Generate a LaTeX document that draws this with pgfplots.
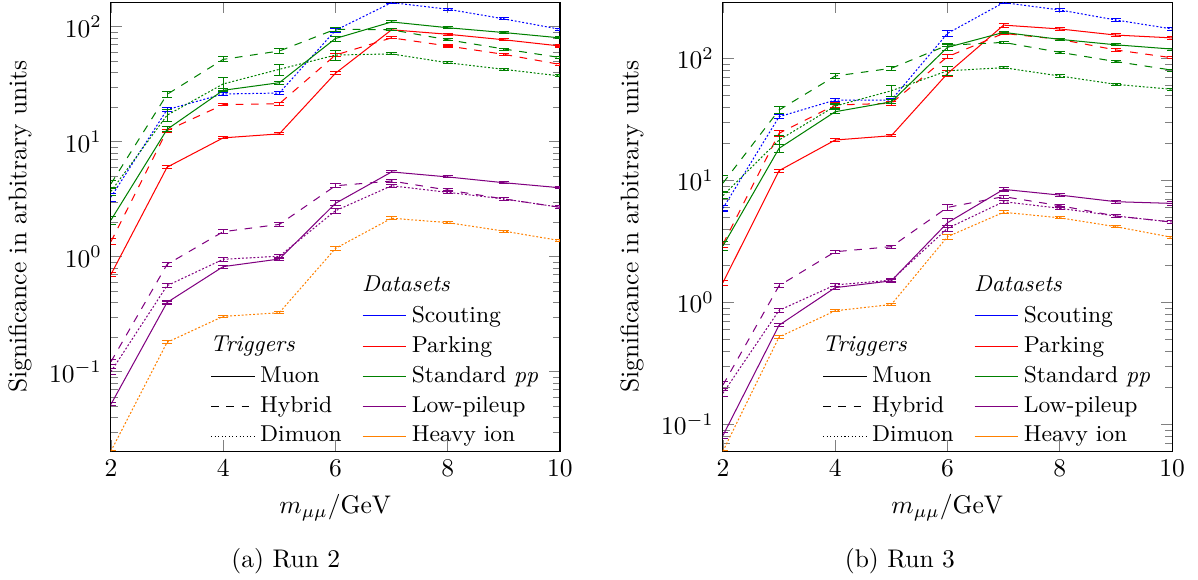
\documentclass[border=0pt]{standalone}
\usepackage{pgfplots}
\pgfplotsset{compat=1.18}
\definecolor{cgreen}{rgb}{0,0.5,0}
\definecolor{cpurple}{rgb}{0.5,0,0.5}
\definecolor{corange}{rgb}{1,0.5,0}
\tikzset{dts/.style={dash pattern=on 0.75pt off 0.75pt}}
\newcommand{\lgimg}[1]{\addlegendimage{legend image code/.code={\draw[#1] (0cm,0cm) -- (0.6cm,0cm);}}}
\newcommand{\mylegend}{%
  \addlegendimage{empty legend}\addlegendentry{}
  \addlegendimage{empty legend}\addlegendentry{\hspace{-19.5pt}\textit{Datasets}}
  \addlegendimage{empty legend}\addlegendentry{}
  \lgimg{blue,solid}\addlegendentry{Scouting}
  \addlegendimage{empty legend}\addlegendentry{\hspace{-19.5pt}\textit{Triggers}}
  \lgimg{red,solid}\addlegendentry{Parking}
  \lgimg{black,solid}\addlegendentry{Muon}
  \lgimg{cgreen,solid}\addlegendentry{Standard \textit{pp}}
  \lgimg{black,dashed}\addlegendentry{Hybrid}
  \lgimg{cpurple,solid}\addlegendentry{Low-pileup}
  \lgimg{black,densely dotted}\addlegendentry{Dimuon}
  \lgimg{corange,solid}\addlegendentry{Heavy ion}
}
\begin{document}
\begin{tikzpicture}
% ---------------- Run 2 ----------------
\begin{axis}[ymode=log, width=176.1pt, height=176.1pt, scale only axis,
    xmin=2, xmax=10, xtick={2,4,6,8,10},
    xlabel={$m_{\mu\mu}/\mathrm{GeV}$},
    ylabel={Significance in arbitrary units},
    legend columns=2,
    legend cell align=left,
    legend style={at={(0.981,-0.012)}, anchor=south east, draw=none, fill=none, font=\small,
      /tikz/every even column/.append style={column sep=6pt}},
    at={(0pt,0pt)}, anchor=south west, ymin=0.0204, ymax=164]
\mylegend
\addplot[blue,dts,error bars/.cd, y dir=both, y explicit relative, error bar style={solid}] table[x=x,y=y,y error=e] {
x y e
2 3.3 0.08
3 19 0.04
4 26 0.03
5 26.5 0.03
6 93 0.04
7 162 0.02
8 142 0.02
9 117 0.02
10 95 0.02
};
\addplot[red,error bars/.cd, y dir=both, y explicit relative, error bar style={solid}] table[x=x,y=y,y error=e] {
x y e
2 0.70 0.04
3 6.0 0.03
4 10.8 0.02
5 11.7 0.02
6 39.4 0.03
7 94 0.02
8 86 0.02
9 77 0.02
10 68 0.02
};
\addplot[red,dashed,error bars/.cd, y dir=both, y explicit relative, error bar style={solid}] table[x=x,y=y,y error=e] {
x y e
2 1.35 0.06
3 12.5 0.03
4 21 0.02
5 21.4 0.03
6 56.7 0.03
7 80 0.02
8 68 0.02
9 57.5 0.02
10 47 0.02
};
\addplot[cgreen,error bars/.cd, y dir=both, y explicit relative, error bar style={solid}] table[x=x,y=y,y error=e] {
x y e
2 2.08 0.08
3 12.8 0.05
4 28 0.03
5 32.6 0.03
6 79 0.05
7 110 0.02
8 98 0.02
9 89 0.02
10 80 0.02
};
\addplot[cgreen,dashed,error bars/.cd, y dir=both, y explicit relative, error bar style={solid}] table[x=x,y=y,y error=e] {
x y e
2 4.3 0.08
3 25.8 0.06
4 52 0.05
5 61.5 0.05
6 95 0.04
7 94 0.02
8 77 0.02
9 64 0.02
10 54 0.02
};
\addplot[cgreen,dts,error bars/.cd, y dir=both, y explicit relative, error bar style={solid}] table[x=x,y=y,y error=e] {
x y e
2 3.7 0.08
3 17 0.12
4 31.8 0.13
5 42.6 0.11
6 56.7 0.10
7 58 0.02
8 48.6 0.02
9 42.6 0.02
10 37.3 0.02
};
\addplot[cpurple,error bars/.cd, y dir=both, y explicit relative, error bar style={solid}] table[x=x,y=y,y error=e] {
x y e
2 0.052 0.03
3 0.40 0.03
4 0.82 0.03
5 0.955 0.03
6 2.91 0.05
7 5.46 0.02
8 4.94 0.02
9 4.40 0.02
10 3.98 0.02
};
\addplot[cpurple,dashed,error bars/.cd, y dir=both, y explicit relative, error bar style={solid}] table[x=x,y=y,y error=e] {
x y e
2 0.122 0.05
3 0.857 0.04
4 1.65 0.04
5 1.91 0.04
6 4.14 0.04
7 4.55 0.03
8 3.80 0.03
9 3.18 0.03
10 2.69 0.03
};
\addplot[cpurple,dts,error bars/.cd, y dir=both, y explicit relative, error bar style={solid}] table[x=x,y=y,y error=e] {
x y e
2 0.10 0.06
3 0.56 0.04
4 0.95 0.04
5 1.01 0.04
6 2.51 0.05
7 4.14 0.03
8 3.63 0.03
9 3.18 0.03
10 2.69 0.03
};
\addplot[corange,dts,error bars/.cd, y dir=both, y explicit relative, error bar style={solid}] table[x=x,y=y,y error=e] {
x y e
2 0.0204 0.02
3 0.18 0.03
4 0.303 0.02
5 0.326 0.02
6 1.18 0.04
7 2.16 0.03
8 1.98 0.02
9 1.67 0.02
10 1.38 0.02
};
\end{axis}
% ---------------- Run 3 ----------------
\begin{axis}[ymode=log, width=176.1pt, height=176.1pt, scale only axis,
    xmin=2, xmax=10, xtick={2,4,6,8,10},
    xlabel={$m_{\mu\mu}/\mathrm{GeV}$},
    ylabel={Significance in arbitrary units},
    legend columns=2,
    legend cell align=left,
    legend style={at={(0.981,-0.012)}, anchor=south east, draw=none, fill=none, font=\small,
      /tikz/every even column/.append style={column sep=6pt}},
    at={(240pt,0pt)}, anchor=south west, ymin=0.0604, ymax=289]
\mylegend
\addplot[blue,dts,error bars/.cd, y dir=both, y explicit relative, error bar style={solid}] table[x=x,y=y,y error=e] {
x y e
2 5.9 0.05
3 33.2 0.04
4 45.5 0.03
5 45.5 0.03
6 160 0.05
7 286 0.02
8 249 0.02
9 206 0.02
10 174 0.02
};
\addplot[red,error bars/.cd, y dir=both, y explicit relative, error bar style={solid}] table[x=x,y=y,y error=e] {
x y e
2 1.45 0.05
3 12 0.03
4 21.4 0.02
5 23.2 0.02
6 75 0.05
7 187 0.04
8 174 0.03
9 155 0.03
10 147 0.03
};
\addplot[red,dashed,error bars/.cd, y dir=both, y explicit relative, error bar style={solid}] table[x=x,y=y,y error=e] {
x y e
2 3.0 0.06
3 24.3 0.05
4 41.4 0.04
5 42.8 0.04
6 103 0.04
7 160 0.02
8 143 0.02
9 117 0.02
10 101 0.02
};
\addplot[cgreen,error bars/.cd, y dir=both, y explicit relative, error bar style={solid}] table[x=x,y=y,y error=e] {
x y e
2 2.9 0.08
3 18.3 0.07
4 36.5 0.04
5 44 0.04
6 123 0.06
7 163 0.02
8 143 0.02
9 129 0.02
10 119 0.02
};
\addplot[cgreen,dashed,error bars/.cd, y dir=both, y explicit relative, error bar style={solid}] table[x=x,y=y,y error=e] {
x y e
2 9.5 0.15
3 37.7 0.07
4 71.6 0.04
5 82.8 0.04
6 128 0.03
7 135 0.02
8 112 0.02
9 94 0.02
10 80 0.02
};
\addplot[cgreen,dts,error bars/.cd, y dir=both, y explicit relative, error bar style={solid}] table[x=x,y=y,y error=e] {
x y e
2 7.5 0.06
3 21.4 0.08
4 40.6 0.04
5 54.2 0.10
6 79 0.08
7 83.8 0.02
8 71.6 0.02
9 61.2 0.02
10 55.7 0.02
};
\addplot[cpurple,error bars/.cd, y dir=both, y explicit relative, error bar style={solid}] table[x=x,y=y,y error=e] {
x y e
2 0.081 0.05
3 0.65 0.03
4 1.32 0.03
5 1.50 0.03
6 4.49 0.08
7 8.43 0.03
8 7.57 0.03
9 6.68 0.03
10 6.47 0.03
};
\addplot[cpurple,dashed,error bars/.cd, y dir=both, y explicit relative, error bar style={solid}] table[x=x,y=y,y error=e] {
x y e
2 0.21 0.06
3 1.37 0.04
4 2.60 0.03
5 2.86 0.03
6 6.0 0.05
7 7.35 0.03
8 6.2 0.03
9 5.1 0.03
10 4.55 0.03
};
\addplot[cpurple,dts,error bars/.cd, y dir=both, y explicit relative, error bar style={solid}] table[x=x,y=y,y error=e] {
x y e
2 0.18 0.06
3 0.86 0.04
4 1.39 0.03
5 1.52 0.03
6 4.04 0.05
7 6.68 0.03
8 5.9 0.03
9 5.1 0.03
10 4.55 0.03
};
\addplot[corange,dts,error bars/.cd, y dir=both, y explicit relative, error bar style={solid}] table[x=x,y=y,y error=e] {
x y e
2 0.0604 0.02
3 0.52 0.03
4 0.853 0.02
5 0.96 0.02
6 3.45 0.05
7 5.47 0.03
8 4.93 0.02
9 4.17 0.02
10 3.41 0.02
};
\end{axis}
\node[anchor=base] at (68.6pt,-45.5pt) {(a) Run 2};
\node[anchor=base] at (309.4pt,-45.5pt) {(b) Run 3};
\pgfresetboundingbox
\path[use as bounding box] (-43.5pt,-50.2pt) rectangle (426.3pt,176.9pt);
\end{tikzpicture}
\end{document}
